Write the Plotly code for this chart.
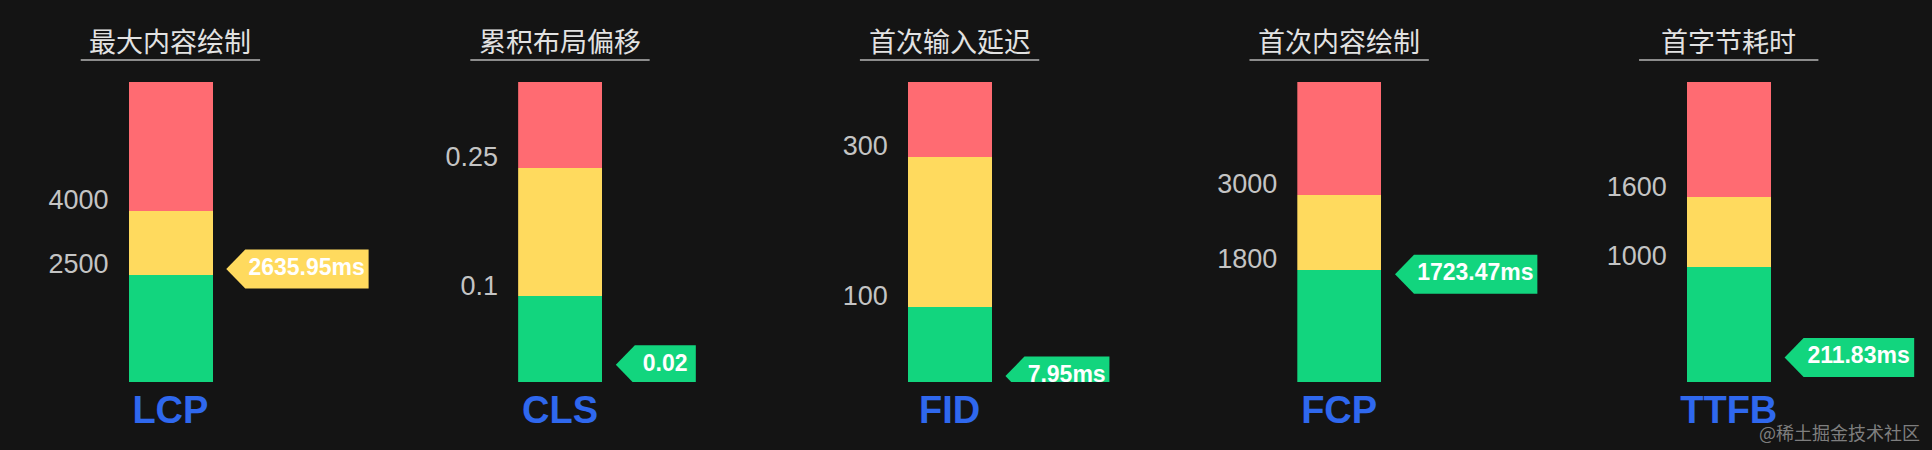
import plotly.graph_objects as go

W, H = 1932, 450
BG = "#141414"
GREEN = "#12D57E"
YELLOW = "#FFDA5E"
RED = "#FF6B72"
BLUE = "#2F68EE"
FONT = "Liberation Sans, Arial, sans-serif"
CJK = "Noto Sans CJK SC"

# web vitals: thresholds, scale top and measured value
metrics = ["LCP", "CLS", "FID", "FCP", "TTFB"]
titles = ["最大内容绘制", "累积布局偏移", "首次输入延迟", "首次内容绘制", "首字节耗时"]
good = [2500, 0.1, 100, 1800, 1000]
poor = [4000, 0.25, 300, 3000, 1600]
scale_max = [7000, 0.35, 400, 4800, 2600]
values = [2635.95, 0.02, 7.95, 1723.47, 211.83]
units = ["ms", "", "ms", "ms", "ms"]

# pixel layout
BAR_W = 84
FIRST_C, STEP = 164, 391
TOP, BOTTOM = 82, 382
LABEL_FS = 23
CHAR_EM = {".": 0.278, "m": 0.889, "s": 0.556}


def text_px(s):
    return sum(CHAR_EM.get(ch, 0.556) for ch in s) * LABEL_FS


fig = go.Figure()
shapes, annotations = [], []
layout = {}

for i, name in enumerate(metrics):
    n = "" if i == 0 else str(i + 1)
    xa, ya = "x" + n, "y" + n
    c = FIRST_C + STEP * i
    left, right = c - BAR_W / 2, c + 200
    units_w = (right - left) / BAR_W

    # stacked bands
    bands = [good[i], poor[i] - good[i], scale_max[i] - poor[i]]
    for band, col in zip(bands, [GREEN, YELLOW, RED]):
        fig.add_trace(go.Bar(
            x=[0], y=[band], width=1, marker=dict(color=col, line_width=0),
            xaxis=xa, yaxis=ya, hoverinfo="skip", showlegend=False,
        ))

    # value label (tag shape under the text)
    v = values[i]
    col = GREEN if v <= good[i] else (YELLOW if v <= poor[i] else RED)
    txt = f"{v:g}{units[i]}"
    inner = max(text_px(txt) + 7, 61)
    r = 33 + inner
    shapes.append(dict(
        type="path", xref=xa, yref=ya, xsizemode="pixel", ysizemode="pixel",
        xanchor=0.5, yanchor=v,
        path=f"M14,0 L33,19.5 L{r},19.5 L{r},-19.5 L33,-19.5 Z",
        fillcolor=col, line_width=0, layer="below",
    ))
    fig.add_trace(go.Scatter(
        x=[0.5 + (33 + r) / 2 / BAR_W], y=[v], text=[txt], mode="text",
        textposition="middle center", cliponaxis=True,
        textfont=dict(family=FONT, size=LABEL_FS, color="white", weight="bold"),
        xaxis=xa, yaxis=ya, hoverinfo="skip", showlegend=False,
    ))

    layout["xaxis" + n] = dict(
        domain=[left / W, right / W], range=[-0.5, -0.5 + units_w],
        anchor=ya, tickvals=[0], ticktext=[name], showgrid=False, zeroline=False,
        showline=False, ticks="", ticklabelstandoff=2, fixedrange=True,
        tickfont=dict(family=FONT, size=38, color=BLUE, weight="bold"),
    )
    layout["yaxis" + n] = dict(
        domain=[(H - BOTTOM) / H, (H - TOP) / H], range=[0, scale_max[i]],
        anchor=xa, tickvals=[good[i], poor[i]],
        ticktext=[f"{good[i]:g}", f"{poor[i]:g}"],
        showgrid=False, zeroline=False, showline=False, ticks="",
        ticklabelstandoff=19, ticklabelshift=-11, fixedrange=True,
        tickfont=dict(family=FONT, size=27, color="#C4C4C4"),
    )

    # title with underline
    annotations.append(dict(
        text=titles[i], xref="paper", yref="paper", x=c / W, y=(H - 40) / H,
        xanchor="center", yanchor="middle", showarrow=False,
        font=dict(family=CJK, size=27, color="#E2E2E2"),
    ))
    shapes.append(dict(
        type="line", xref="paper", yref="paper",
        x0=(c - 90) / W, x1=(c + 90) / W, y0=(H - 60) / H, y1=(H - 60) / H,
        line=dict(color="#8C8C8C", width=2),
    ))

annotations.append(dict(
    text="@稀土掘金技术社区", xref="paper", yref="paper", x=1922 / W, y=(H - 432) / H,
    xanchor="right", yanchor="middle", showarrow=False,
    font=dict(family=CJK, size=18, color="rgba(200,200,200,0.6)"),
))

fig.update_layout(
    width=W, height=H, margin=dict(l=0, r=0, t=0, b=0),
    paper_bgcolor=BG, plot_bgcolor=BG, barmode="stack", bargap=0,
    shapes=shapes, annotations=annotations, **layout,
)

fig.write_html("out.html", config={"displayModeBar": False},
               post_script="document.body.style.margin='0';")
